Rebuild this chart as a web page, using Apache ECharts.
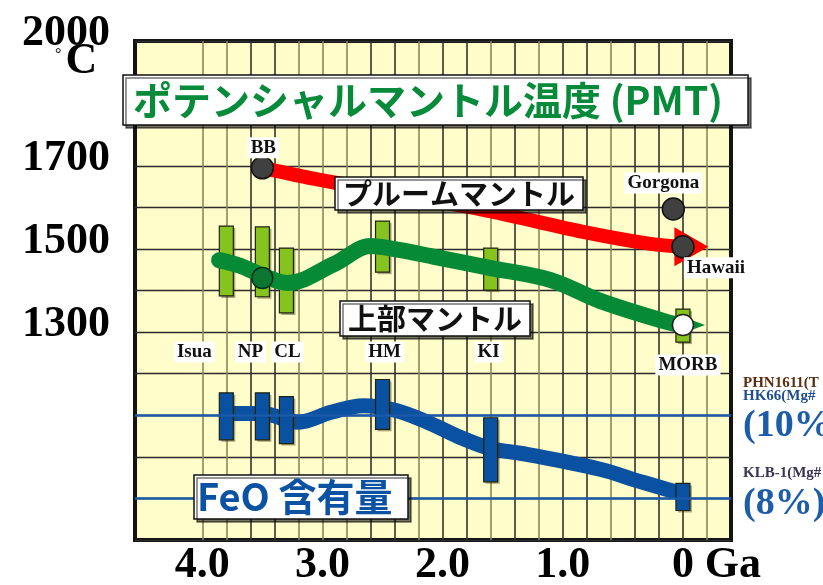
<!DOCTYPE html>
<html><head><meta charset="utf-8">
<script src="https://cdn.jsdelivr.net/npm/echarts@6/dist/echarts.min.js"></script>
<style>html,body{margin:0;padding:0;background:#fff}#c{width:823px;height:585px}</style>
</head><body><div id="c"></div>
<script>
// ---- data ----
const xTickLabels = [4, 3, 2, 1, 0];
const yTickLabels = [1300, 1500, 1700, 2000];
const feoTickLabels = [10, 8];

const plumeGa = [3.5, 3.02, 1.66, 0.83, 0.27, 0];
const plumeT  = [1695, 1666, 1594, 1541, 1512, 1505];
const plumeArrow = [-0.07, 1505];

const upperGa = [3.86, 3.68, 3.49, 3.29, 2.9, 2.6, 2.35, 2.07, 1.6, 1.1, 0.69, 0.13, 0];
const upperT  = [1473, 1459, 1435, 1418, 1464, 1507, 1497, 1481, 1454, 1425, 1375, 1324, 1317];
const upperArrow = [-0.1, 1317];

const feoGa  = [3.79, 3.5, 3.2, 2.93, 2.66, 2.38, 2.1, 1.83, 1.6, 1.3, 0.69, 0.36, 0.1, 0];
const feoPct = [10.04, 10.04, 9.83, 10.07, 10.23, 10.11, 9.8, 9.44, 9.2, 9.06, 8.7, 8.41, 8.19, 8.12];

const hotspotNames = ['BB', 'Gorgona', 'Hawaii'];
const hotspotGa = [3.5, 0.08, 0];
const hotspotT  = [1695, 1596, 1505];

const siteNames  = ['Isua', 'NP', 'CL', 'HM', 'KI', 'MORB'];
const siteGa     = [3.8, 3.5, 3.3, 2.5, 1.6, 0];
const siteTLow   = [1387, 1385, 1346, 1444, 1401, 1276];
const siteTHigh  = [1555, 1553, 1502, 1567, 1502, 1355];
const siteFeoLow = [9.41, 9.41, 9.32, 9.66, 8.4, 7.71];
const siteFeoHigh= [10.54, 10.54, 10.45, 10.86, 9.94, 8.36];

const npUpperT = 1430;    // NP upper-mantle point
const morbUpperT = 1317;  // MORB point

// ---- styles ----
const SERIF = 'Liberation Serif';
const CJK = 'Noto Sans CJK JP';
const D = '#34322a', O = '#8f8758', T = 'rgba(0,0,0,0)';
const vGridColors = [T, O, D, D, D, O, D, D, O, D, O, D, D, O, D, D, O, O, O, D, D, O, O, T, T, T];

function boxRenderer(fill, w) {
  return function (params, api) {
    const x = api.value(0), lo = api.value(1), hi = api.value(2);
    const p1 = api.coord([x, hi]), p2 = api.coord([x, lo]);
    const h = p2[1] - p1[1];
    return {
      type: 'group',
      children: [
        { type: 'rect', shape: { x: p1[0] - w / 2 + 2, y: p1[1] + 2, width: w, height: h },
          style: { fill: 'rgba(70,60,20,0.45)' } },
        { type: 'rect', shape: { x: p1[0] - w / 2, y: p1[1], width: w, height: h },
          style: { fill: fill, stroke: '#1e2410', lineWidth: 1.2 } }
      ]
    };
  };
}

const labelStyle = {
  show: true, position: 'inside', fontFamily: SERIF, fontWeight: 'bold', fontSize: 19,
  color: '#111', backgroundColor: '#fff', padding: [1, 3, 0, 3], lineHeight: 20
};

const hotspotOffsets = [[1, -20], [-10, -26], [33, 21]];
const siteLabelT = 1252;
const siteLabelOffsets = [[-32, 0], [-12, 0], [1, 0], [2, 0], [-2, 0]];

const boxStyle = {
  backgroundColor: '#fff', borderColor: '#111', borderWidth: 1.5,
  shadowColor: 'rgba(0,0,0,0.55)', shadowOffsetX: 3, shadowOffsetY: 3, shadowBlur: 0
};

const chart = echarts.init(document.getElementById('c'));
chart.setOption({
  animation: false,
  backgroundColor: '#fff',
  title: [
    Object.assign({ text: 'ポテンシャルマントル温度 (PMT)', left: 123, top: 75, padding: [5, 25, 5, 10],
      textStyle: { fontFamily: CJK, fontWeight: 'bold', fontSize: 39, lineHeight: 40, color: '#078a3a' } }, boxStyle),
    Object.assign({ text: 'プルームマントル', left: 335, top: 177, padding: [2, 8, 2, 8],
      textStyle: { fontFamily: CJK, fontWeight: 'bold', fontSize: 29, lineHeight: 29, color: '#111' } }, boxStyle),
    Object.assign({ text: '上部マントル', left: 340, top: 301, padding: [3, 8, 3, 8],
      textStyle: { fontFamily: CJK, fontWeight: 'bold', fontSize: 29, lineHeight: 29, color: '#111' } }, boxStyle),
    Object.assign({ text: 'FeO 含有量', left: 194, top: 475, padding: [3, 16, 3, 3],
      textStyle: { fontFamily: CJK, fontWeight: 'bold', fontSize: 38, lineHeight: 38, color: '#0b52a2' } }, boxStyle),
    { text: '{d|°}{c|C}', left: 55, top: 47, padding: 0, z: 1,
      textStyle: { rich: {
        d: { fontFamily: SERIF, fontWeight: 'bold', fontSize: 16, color: '#222', verticalAlign: 'top', lineHeight: 30, padding: [0, 4, 0, 0] },
        c: { fontFamily: SERIF, fontWeight: 'bold', fontSize: 44, color: '#000', lineHeight: 30 }
      } } }
  ],
  grid: {
    left: 135, right: 92, top: 41, bottom: 45, show: true, outerBoundsMode: 'none', containLabel: false,
    backgroundColor: '#fffdca', borderColor: '#141414', borderWidth: 4
  },
  xAxis: {
    type: 'value', inverse: true, min: -0.4, max: 4.56, interval: 0.2,
    axisLine: { show: false }, axisTick: { show: false },
    splitLine: { show: true, lineStyle: { color: vGridColors, width: 1.6 } },
    axisLabel: {
      margin: 4, color: '#000', fontFamily: SERIF, fontWeight: 'bold', fontSize: 44,
      formatter: function (v) {
        const r = Math.round(v);
        if (Math.abs(v - r) > 1e-6 || xTickLabels.indexOf(r) < 0) return '';
        if (r === 0) return '{p|\u00a0}{n|0}{g|\u00a0Ga}';
        return r.toFixed(1);
      },
      rich: {
        p: { width: 67, fontFamily: SERIF, fontWeight: 'bold', fontSize: 44 },
        n: { fontFamily: SERIF, fontWeight: 'bold', fontSize: 44, color: '#000' },
        g: { width: 67, fontFamily: SERIF, fontWeight: 'bold', fontSize: 44, color: '#000' }
      }
    }
  },
  yAxis: [
    {
      type: 'value', min: 800, max: 2000, interval: 100,
      axisLine: { show: false }, axisTick: { show: false },
      splitLine: { show: true, lineStyle: { color: '#2b2b2b', width: 1.4 } },
      axisLabel: {
        margin: 25, color: '#000', fontFamily: SERIF, fontWeight: 'bold', fontSize: 44,
        verticalAlign: 'bottom', lineHeight: 14,
        formatter: function (v) { return yTickLabels.indexOf(v) >= 0 ? String(v) : ''; }
      }
    },
    {
      type: 'value', position: 'right', min: 7, max: 19, interval: 1,
      axisLine: { show: false }, axisTick: { show: false }, splitLine: { show: false },
      axisLabel: {
        margin: 12, align: 'left',
        formatter: function (v) {
          if (v === 10) return '{a|PHN1611(T}\n{b|HK66(Mg#}\n{c|(10%)}\n{z| }';
          if (v === 8) return '{e|KLB-1(Mg#}\n{c|(8%)}\n{z| }';
          return '';
        },
        rich: {
          a: { fontFamily: SERIF, fontWeight: 'bold', fontSize: 15, lineHeight: 13, color: '#5b2c0f' },
          b: { fontFamily: SERIF, fontWeight: 'bold', fontSize: 15, lineHeight: 13, color: '#1f4f8f' },
          e: { fontFamily: SERIF, fontWeight: 'bold', fontSize: 15, lineHeight: 16, color: '#3b3350' },
          c: { fontFamily: SERIF, fontWeight: 'bold', fontSize: 38, lineHeight: 47, color: '#1d5ca8' },
          z: { fontSize: 4, lineHeight: 4 }
        }
      }
    }
  ],
  series: [
    { // upper mantle ranges
      type: 'custom', z: 2, xAxisIndex: 0, yAxisIndex: 0,
      renderItem: boxRenderer('#86c31e', 14),
      encode: { x: 0, y: [1, 2] },
      data: siteGa.map((g, i) => [g, siteTLow[i], siteTHigh[i]])
    },
    { // upper mantle curve
      type: 'line', z: 3, smooth: 0.35, symbol: 'none',
      lineStyle: { color: '#068a36', width: 16, cap: 'round', join: 'round' },
      data: upperGa.map((g, i) => [g, upperT[i]])
    },
    {
      type: 'scatter', z: 4, symbol: 'triangle', symbolRotate: -90, symbolSize: [15, 20],
      itemStyle: { color: '#068a36', opacity: 1 }, data: [upperArrow]
    },
    {
      type: 'scatter', z: 5, symbolSize: 21, itemStyle: { opacity: 1 },
      data: [
        { value: [siteGa[1], npUpperT], itemStyle: { color: '#0b7632', borderColor: '#05331a', borderWidth: 1.5, opacity: 1 } },
        { value: [siteGa[5], morbUpperT], itemStyle: { color: '#ffffff', borderColor: '#222', borderWidth: 1.5, opacity: 1 },
          label: Object.assign({}, labelStyle, { formatter: siteNames[5], offset: [5, 40] }) }
      ]
    },
    { // plume curve
      type: 'line', z: 3, smooth: 0.35, symbol: 'none',
      lineStyle: { color: '#ff0000', width: 14, cap: 'round', join: 'round' },
      data: plumeGa.map((g, i) => [g, plumeT[i]])
    },
    {
      type: 'scatter', z: 4, symbol: 'triangle', symbolRotate: -90, symbolSize: [39, 34],
      itemStyle: { color: '#ff0000', opacity: 1 }, data: [plumeArrow]
    },
    { // hotspots
      type: 'scatter', z: 5, symbolSize: 22,
      itemStyle: { color: '#404040', borderColor: '#111', borderWidth: 1.5, opacity: 1 },
      data: hotspotGa.map((g, i) => ({
        value: [g, hotspotT[i]], name: hotspotNames[i],
        label: Object.assign({}, labelStyle, { formatter: hotspotNames[i], offset: hotspotOffsets[i] })
      }))
    },
    { // FeO curve
      type: 'line', z: 3, yAxisIndex: 1, smooth: 0.35, symbol: 'none',
      lineStyle: { color: '#0b51a1', width: 15, cap: 'round', join: 'round' },
      data: feoGa.map((g, i) => [g, feoPct[i]]),
      markLine: {
        silent: true, symbol: 'none', label: { show: false },
        lineStyle: { color: '#1a5aa8', width: 2.5, type: 'solid' },
        data: feoTickLabels.map(v => ({ yAxis: v }))
      }
    },
    { // FeO ranges
      type: 'custom', z: 4, xAxisIndex: 0, yAxisIndex: 1,
      renderItem: boxRenderer('#0b51a1', 14),
      encode: { x: 0, y: [1, 2] },
      data: siteGa.map((g, i) => [g, siteFeoLow[i], siteFeoHigh[i]])
    },
    { // site labels
      type: 'scatter', z: 6, symbolSize: 0, itemStyle: { opacity: 1 },
      data: siteNames.slice(0, 5).map((n, i) => ({
        value: [siteGa[i], siteLabelT],
        label: Object.assign({}, labelStyle, { formatter: n, offset: siteLabelOffsets[i] })
      }))
    }
  ]
});
</script></body></html>
